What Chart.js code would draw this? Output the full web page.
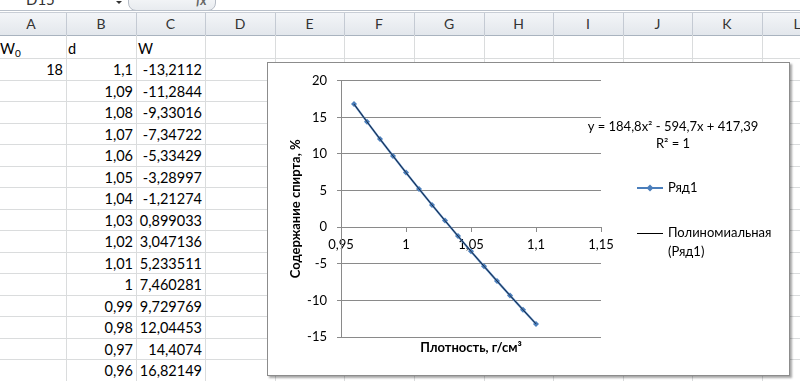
<!DOCTYPE html>
<html><head><meta charset="utf-8">
<script src="https://cdn.jsdelivr.net/npm/chart.js@4/dist/chart.umd.min.js"></script>
<style>
html,body{margin:0;padding:0;width:800px;height:381px;overflow:hidden;background:#fff;font-family:Lato,'Open Sans',sans-serif;}
#sheet{position:absolute;left:0;top:0;width:800px;height:381px;overflow:hidden;}
.t{position:absolute;font-size:14.5px;color:#000;white-space:nowrap;line-height:17px;}
.hl{position:absolute;height:1px;background:#dadcdd;}
.vl{position:absolute;width:1px;background:#dadcdd;}
#chartBox{position:absolute;left:267px;top:62px;width:521px;height:312px;border:1px solid #8c8c8c;background:#fff;box-shadow:2px 2px 2px rgba(0,0,0,0.35);}
#chartBox canvas{position:absolute;left:0;top:0;}
</style></head>
<body>
<div id="sheet"></div>
<div id="chartBox"><canvas id="c" width="521" height="312"></canvas></div>
<script>
// ---- data ----
const w0Label = '18';
const dLabels = ['1,1','1,09','1,08','1,07','1,06','1,05','1,04','1,03','1,02','1,01','1','0,99','0,98','0,97','0,96'];
const wLabels = ['-13,2112','-11,2844','-9,33016','-7,34722','-5,33429','-3,28997','-1,21274','0,899033','3,047136','5,233511','7,460281','9,729769','12,04453','14,4074','16,82149'];
const columnLetters = ['A','B','C','D','E','F','G','H','I','J','K','L'];
const xTicks = [0.95, 1, 1.05, 1.1, 1.15];
const yTicks = [-15, -10, -5, 0, 5, 10, 15, 20];
const seriesName = 'Ряд1';
const trendName = ['Полиномиальная', '(Ряд1)'];
const equationLines = ['y = 184,8x² - 594,7x + 417,39', 'R² = 1'];
const xTitle = 'Плотность, г/см³';
const yTitle = 'Содержание спирта, %';

// ---- spreadsheet ----
const FONT = "Lato, 'Open Sans', sans-serif";
const sheet = document.getElementById('sheet');
function el(cls, css, html){ const d=document.createElement('div'); d.className=cls; d.style.cssText=css; if(html!==undefined) d.innerHTML=html; sheet.appendChild(d); return d; }
const colEdges = [-4]; for(let i=1;i<=12;i++) colEdges.push(Math.round(66 + 69.6*(i-1)));
// formula bar strip
el('', 'position:absolute;left:0;top:0;width:126px;height:10px;background:#fff;');
el('t', 'left:26px;top:-9px;font-size:15px;color:#333;', 'D15');
el('', 'position:absolute;left:116px;top:1px;width:0;height:0;border-left:3px solid transparent;border-right:3px solid transparent;border-top:3px solid #333;');
el('', 'position:absolute;left:128px;top:-10px;width:86px;height:19px;border:1px solid #b6bcc6;border-radius:0 0 8px 8px;background:linear-gradient(#fafbfc,#e8ebef);');
el('t', 'left:196px;top:-8px;font-size:13px;font-style:italic;font-weight:bold;color:#666;', 'fx');
el('', 'position:absolute;left:0;top:10px;width:800px;height:1px;background:#b9c0ca;');
// header row
el('', 'position:absolute;left:0;top:12px;width:800px;height:22px;background:linear-gradient(#f3f5f8,#e3e7ec);border-top:1px solid #c9ced6;border-bottom:1px solid #a9b3bf;');
for(let i=0;i<12;i++){
  const l=colEdges[i], r=colEdges[i+1];
  el('t', `left:${l}px;top:15px;width:${r-l}px;text-align:center;color:#333;font-size:14px;`, columnLetters[i]);
  if(i>0) el('', `position:absolute;left:${l}px;top:13px;width:1px;height:22px;background:#c4cad3;`);
}
// grid
for(let i=1;i<12;i++) el('vl', `left:${colEdges[i]}px;top:35px;height:346px;`);
const rowLine = k => Math.round(58 + 21.5*k);
for(let k=0;k<16;k++) el('hl', `left:0;top:${rowLine(k)}px;width:800px;`);
function cellText(col, row, text, align){
  const cy = 48 + 21.5*(row-1);
  const l=colEdges[col], r=colEdges[col+1];
  if(align==='right') el('t', `left:${l}px;top:${cy-8.5}px;width:${r-l-3}px;text-align:right;`, text);
  else el('t', `left:${l+(col===0?4:2)}px;top:${cy-8.5}px;`, text);
}
cellText(0,1,'W<sub style="font-size:10px;vertical-align:-3px">0</sub>','left');
cellText(1,1,'d','left');
cellText(2,1,'W','left');
cellText(0,2,w0Label,'right');
dLabels.forEach((s,i)=>{ cellText(1,i+2,s,'right'); cellText(2,i+2,wLabels[i],'right'); });

// ---- chart ----
const num = s => parseFloat(s.replace(',', '.'));
const pts = dLabels.map((s,i)=>({x:num(s), y:num(wLabels[i])}));
const fmt = v => String(Math.round(v*100)/100).replace('.', ',');
const BLUE = '#4a7ebb', GRID = '#8a8a8a';

const extras = {
  id:'extras',
  afterDraw(chart){
    const c = chart.ctx, a = chart.chartArea;
    c.save();
    c.fillStyle = '#000';
    c.textBaseline = 'middle';
    // equation
    c.font = `13px ${FONT}`;
    c.textAlign = 'center';
    c.fillText(equationLines[0], 405, 64);
    c.fillText(equationLines[1], 405, 81);
    // x title
    c.font = `bold 13px ${FONT}`;
    c.fillText(xTitle, (a.left+a.right)/2, 285);
    // legend
    c.font = `13px ${FONT}`;
    c.textAlign = 'left';
    c.strokeStyle = BLUE; c.lineWidth = 2;
    c.beginPath(); c.moveTo(369,125); c.lineTo(395,125); c.stroke();
    c.fillStyle = BLUE;
    c.beginPath(); c.moveTo(382,121.5); c.lineTo(385.5,125); c.lineTo(382,128.5); c.lineTo(378.5,125); c.closePath(); c.fill();
    c.fillStyle = '#000';
    c.fillText(seriesName, 400, 125);
    c.strokeStyle = '#000'; c.lineWidth = 1;
    c.beginPath(); c.moveTo(369,170.5); c.lineTo(395,170.5); c.stroke();
    c.fillText(trendName[0], 400, 170);
    c.fillText(trendName[1], 400, 189);
    c.restore();
  }
};

new Chart(document.getElementById('c'), {
  type:'scatter',
  data:{datasets:[
    {label:seriesName, data:pts, showLine:true, borderColor:BLUE, backgroundColor:BLUE, borderWidth:2,
     pointStyle:'rectRot', pointRadius:3, pointHoverRadius:3, pointBorderWidth:0, order:2},
    {label:trendName.join(' '), data:pts, showLine:true, borderColor:'#1a2a44', borderWidth:1, pointRadius:0,
     cubicInterpolationMode:'monotone', order:1}
  ]},
  options:{
    responsive:false, animation:false, devicePixelRatio:1,
    layout:{padding:{left:0, top:15, right:188, bottom:38}},
    plugins:{legend:{display:false}, tooltip:{enabled:false}},
    scales:{
      x:{type:'linear', position:{y:0}, min:0.95, max:1.15,
         afterBuildTicks:s=>{ s.ticks = xTicks.map(v=>({value:v})); },
         grid:{drawOnChartArea:false, drawTicks:true, tickLength:4, color:GRID},
         border:{color:GRID},
         ticks:{font:{family:FONT,size:13}, color:'#000', padding:6, maxRotation:0, autoSkip:false, callback:v=>fmt(v)}},
      y:{type:'linear', min:-15, max:20,
         afterBuildTicks:s=>{ s.ticks = yTicks.map(v=>({value:v})); },
         afterFit:s=>{ s.width = 73; },
         grid:{color:GRID, tickLength:4},
         border:{color:GRID},
         ticks:{font:{family:FONT,size:13}, color:'#000', padding:10, callback:v=>String(v)},
         title:{display:true, text:yTitle, color:'#000', font:{family:FONT,size:13,weight:'bold'}, padding:{top:20,bottom:0}}}
    }
  },
  plugins:[extras]
});
</script>
</body></html>
